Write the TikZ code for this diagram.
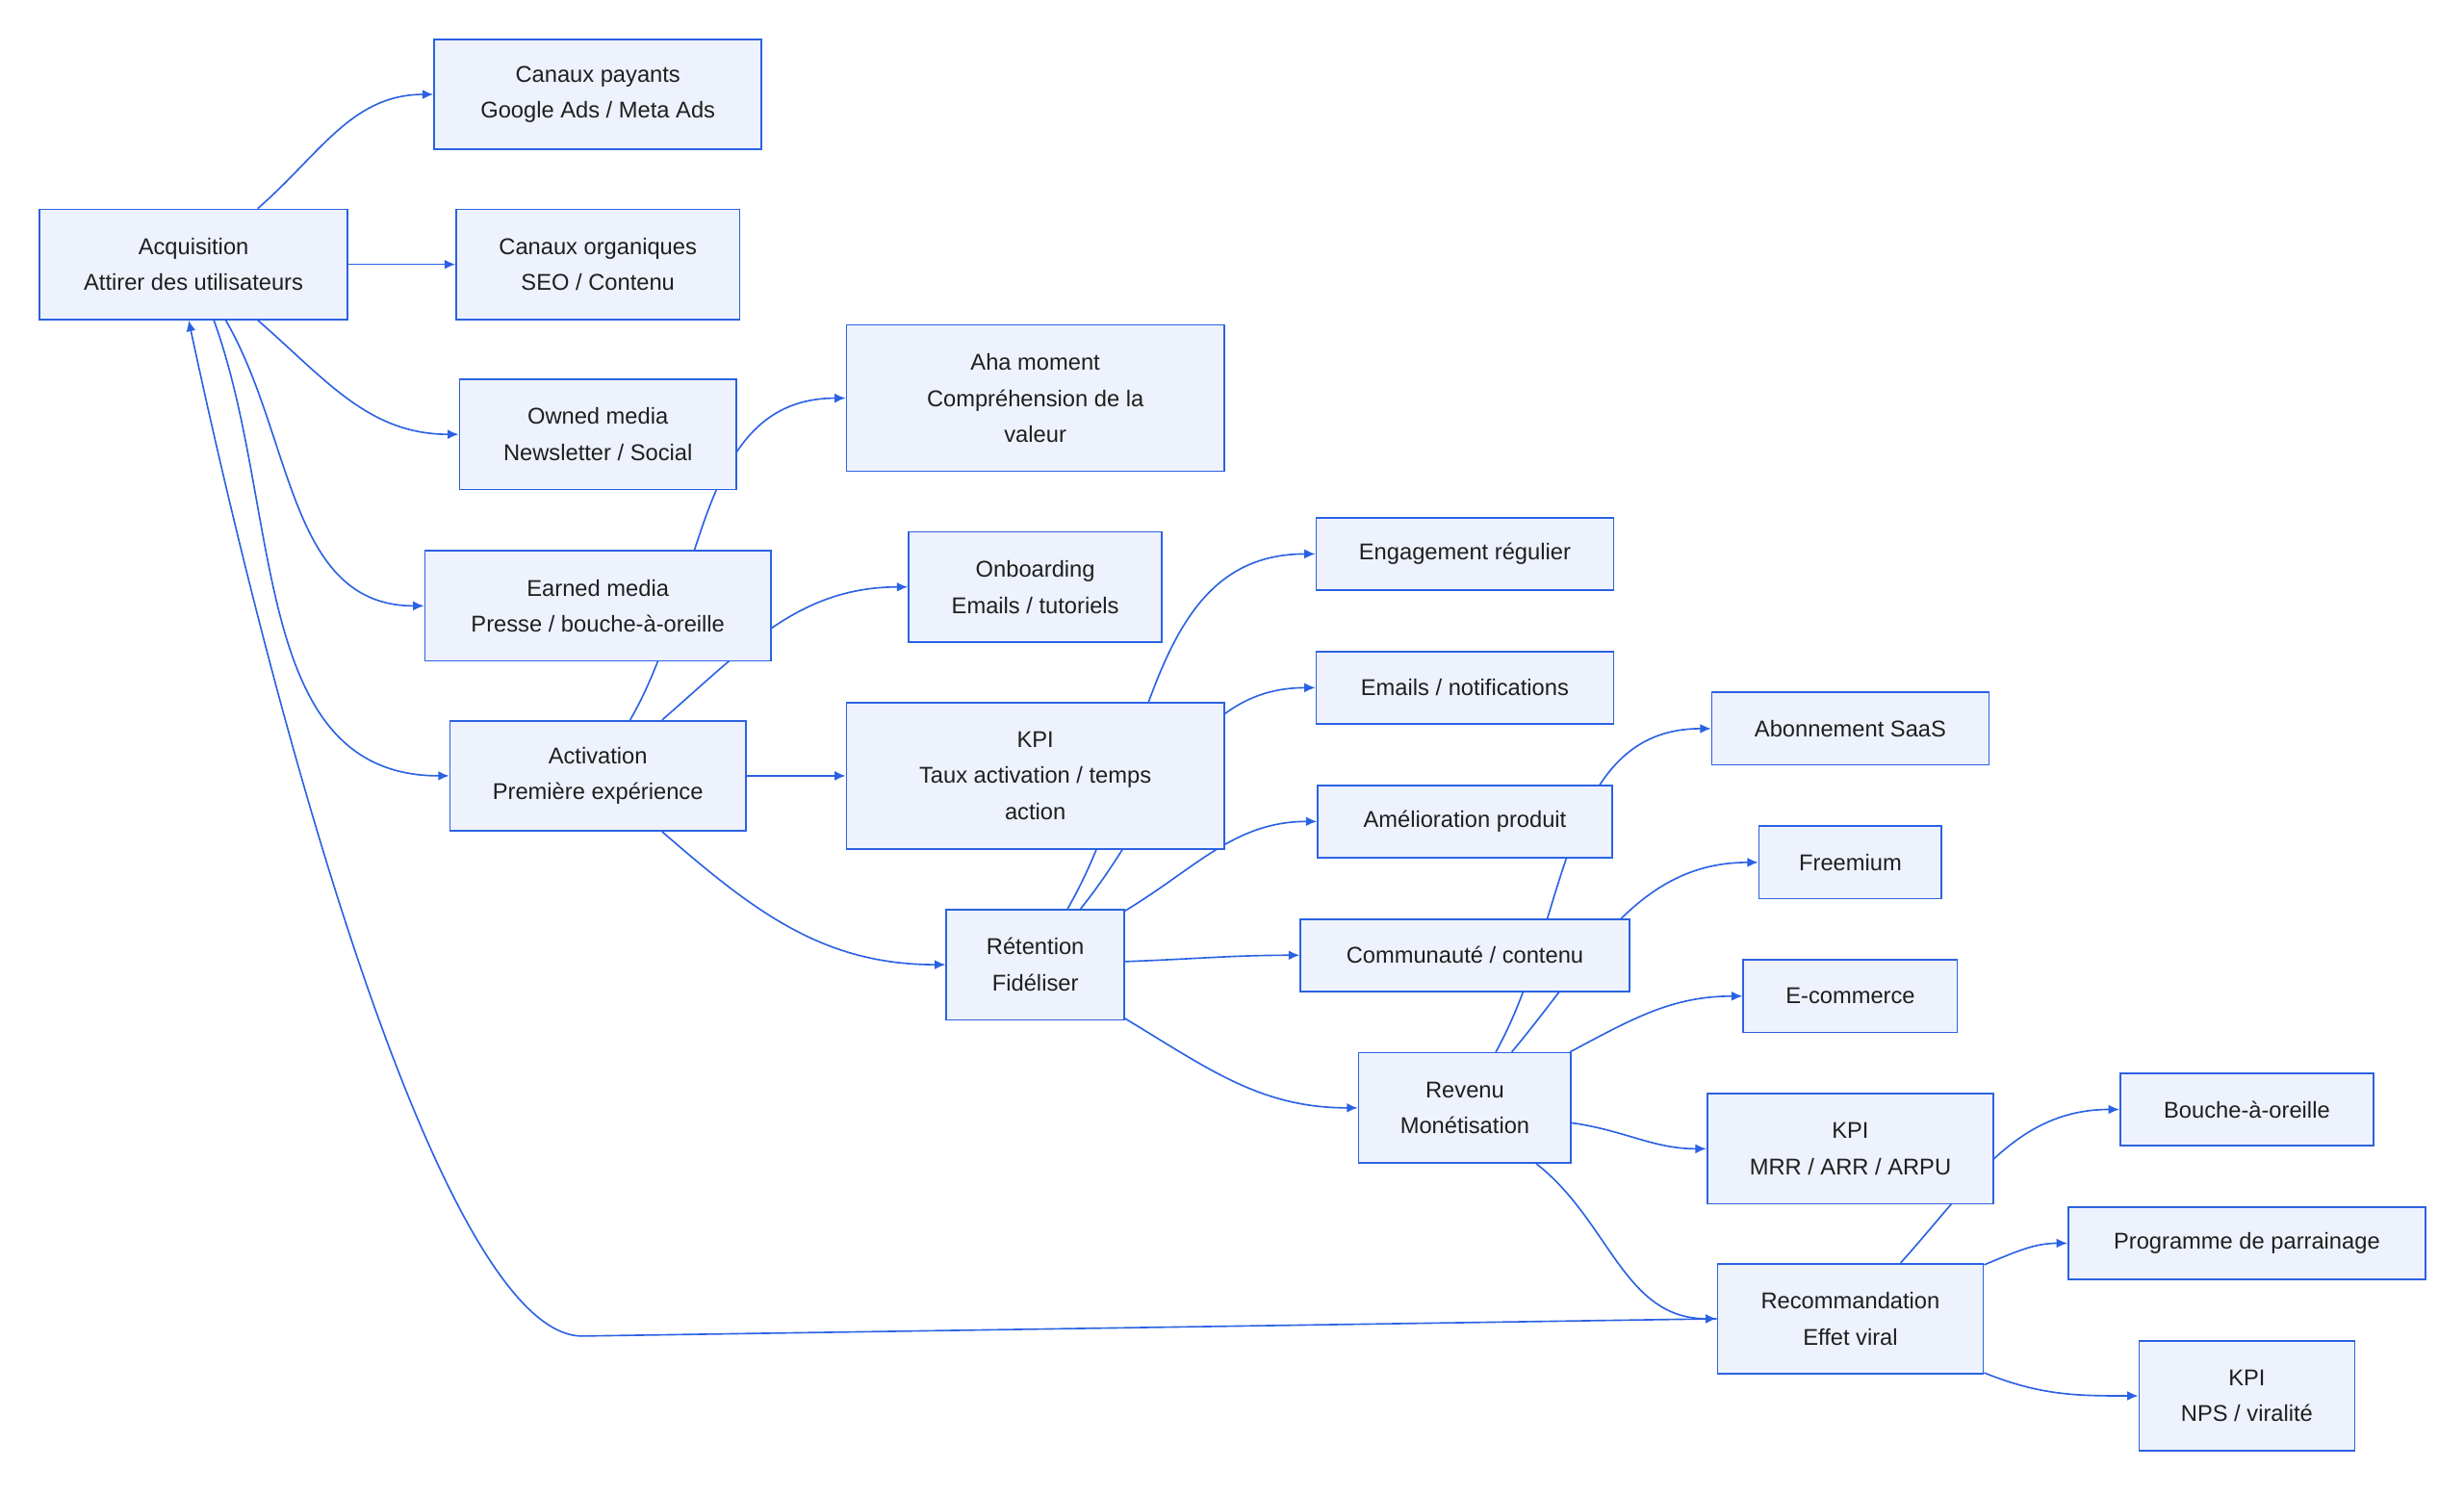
\documentclass[tikz,border=0pt]{standalone}
\usepackage{fontspec}
\setmainfont{Liberation Sans}
\usetikzlibrary{arrows.meta,backgrounds}
\definecolor{bfill}{HTML}{EEF2FC}
\definecolor{bline}{HTML}{2B62E3}
\definecolor{ink}{HTML}{1F1F1F}
\begin{document}
\begin{tikzpicture}[x=1pt,y=-1pt,
  box/.style={draw=bline,fill=bfill,line width=1pt,align=center,inner sep=0pt,
    font=\fontsize{14.5}{23}\selectfont,text=ink},
  arr/.style={draw=bline,line width=1pt,-{Latex[length=7pt,width=6pt]}}]
\useasboundingbox (0,0) rectangle (1566,950);
\node[box,minimum width=196,minimum height=70] (acq) at (123,168) {Acquisition\\Attirer des utilisateurs};
\node[box,minimum width=208,minimum height=70] (pay) at (380,60) {Canaux payants\\Google Ads / Meta Ads};
\node[box,minimum width=180,minimum height=70] (org) at (380,168) {Canaux organiques\\SEO / Contenu};
\node[box,minimum width=176,minimum height=70] (own) at (380,276) {Owned media\\Newsletter / Social};
\node[box,minimum width=220,minimum height=70] (earn) at (380,385) {Earned media\\Presse / bouche-à-oreille};
\node[box,minimum width=188,minimum height=70] (act) at (380,493) {Activation\\Première expérience};
\node[box,minimum width=240,minimum height=93] (aha) at (658,253) {Aha moment\\Compréhension de la\\valeur};
\node[box,minimum width=161,minimum height=70] (onb) at (658,373) {Onboarding\\Emails / tutoriels};
\node[box,minimum width=240,minimum height=93] (kpi1) at (658,493) {KPI\\Taux activation / temps\\action};
\node[box,minimum width=113,minimum height=70] (ret) at (658,613) {Rétention\\Fidéliser};
\node[box,minimum width=189,minimum height=46] (eng) at (931,352) {Engagement régulier};
\node[box,minimum width=189,minimum height=46] (mail) at (931,437) {Emails / notifications};
\node[box,minimum width=187,minimum height=46] (amel) at (931,522) {Amélioration produit};
\node[box,minimum width=209,minimum height=46] (comm) at (931,607) {Communauté / contenu};
\node[box,minimum width=135,minimum height=70] (rev) at (931,704) {Revenu\\Monétisation};
\node[box,minimum width=176,minimum height=46] (abo) at (1176,463) {Abonnement SaaS};
\node[box,minimum width=116,minimum height=46] (free) at (1176,548) {Freemium};
\node[box,minimum width=136,minimum height=46] (ecom) at (1176,633) {E-commerce};
\node[box,minimum width=182,minimum height=70] (kpi2) at (1176,730) {KPI\\MRR / ARR / ARPU};
\node[box,minimum width=169,minimum height=70] (rec) at (1176,838) {Recommandation\\Effet viral};
\node[box,minimum width=161,minimum height=46] (bao) at (1428,705) {Bouche-à-oreille};
\node[box,minimum width=227,minimum height=46] (prog) at (1428,790) {Programme de parrainage};
\node[box,minimum width=137,minimum height=70] (kpi3) at (1428,887) {KPI\\NPS / viralité};
\begin{scope}[on background layer]
\draw[arr] (acq) to[out=41,in=180] (pay.west);
\draw[arr] (acq.east) -- (org.west);
\draw[arr] (acq) to[out=-41,in=180] (own.west);
\draw[arr] (acq) to[out=-60,in=180] (earn.west);
\draw[arr] (acq) to[out=-70,in=180] (act.west);
\draw[arr] (act) to[out=60,in=180] (aha.west);
\draw[arr] (act) to[out=41,in=180] (onb.west);
\draw[arr] (act.east) -- (kpi1.west);
\draw[arr] (act) to[out=-41,in=180] (ret.west);
\draw[arr] (ret) to[out=60,in=180] (eng.west);
\draw[arr] (ret) to[out=51,in=180] (mail.west);
\draw[arr] (ret) to[out=31,in=180] (amel.west);
\draw[arr] (ret) to[out=2,in=180] (comm.west);
\draw[arr] (ret) to[out=-31,in=180] (rev.west);
\draw[arr] (rev) to[out=61,in=180] (abo.west);
\draw[arr] (rev) to[out=50,in=180] (free.west);
\draw[arr] (rev) to[out=28,in=180] (ecom.west);
\draw[arr] (rev) to[out=-8,in=180] (kpi2.west);
\draw[arr] (rev) to[out=-38,in=180] (rec.west);
\draw[arr] (rec) to[out=48,in=180] (bao.west);
\draw[arr] (rec) to[out=22,in=180] (prog.west);
\draw[arr] (rec) to[out=-22,in=180] (kpi3.west);
\coordinate (bend) at (370,849);
\draw[arr] (rec.west) -- (bend) .. controls (290,849) and (190,530) .. (acq.265);
\end{scope}
\end{tikzpicture}
\end{document}
